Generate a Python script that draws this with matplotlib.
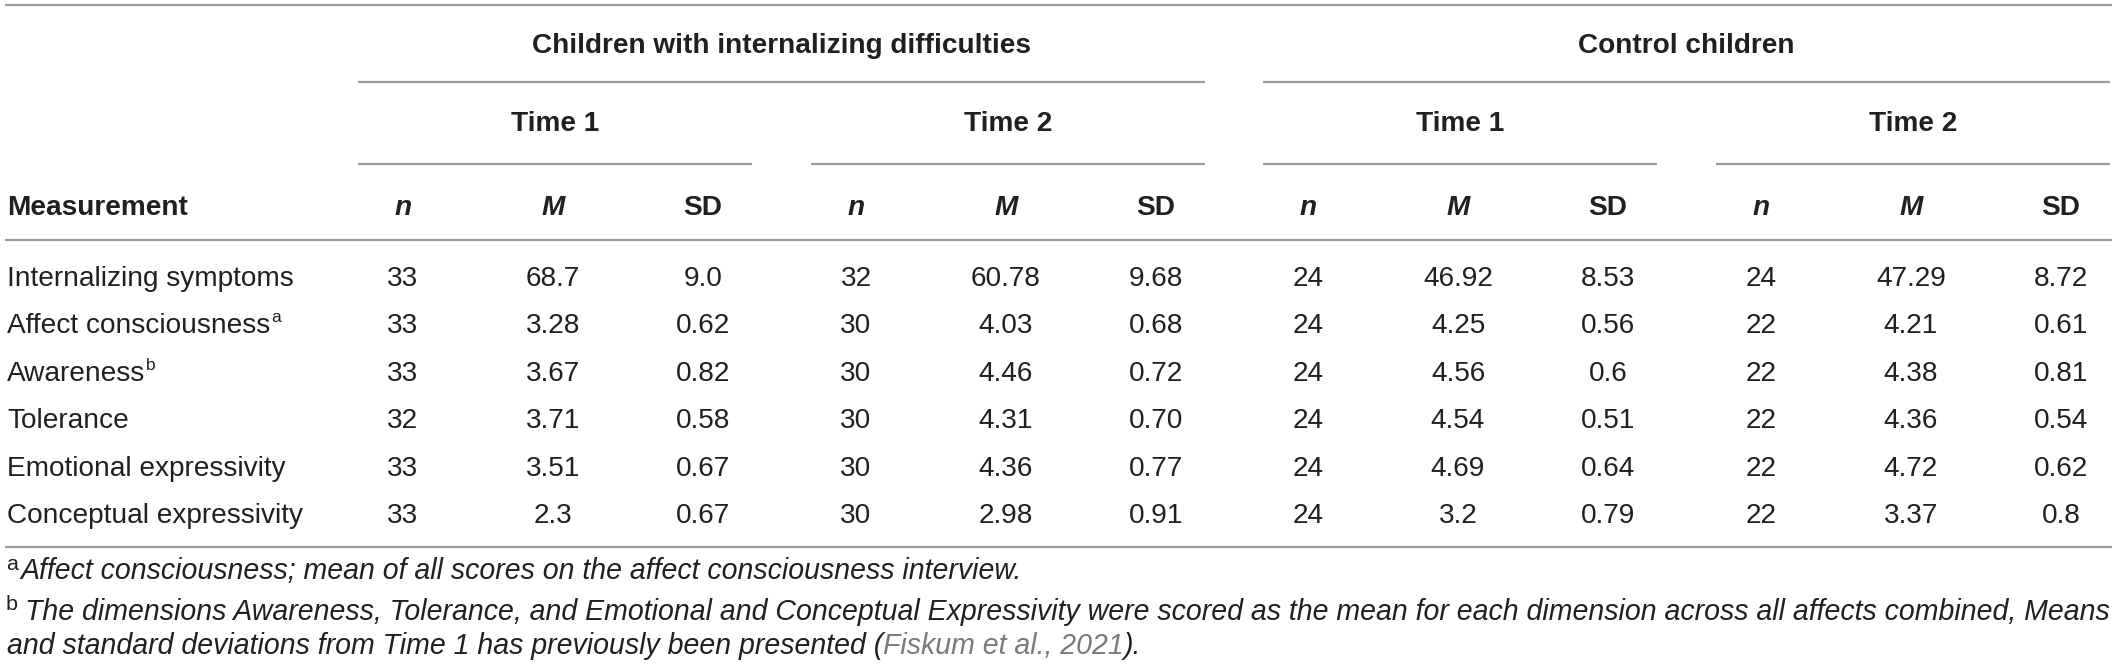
import matplotlib
matplotlib.use("Agg")
import matplotlib.pyplot as plt

# Table content
measurements = ["Internalizing symptoms", "Affect consciousness", "Awareness",
                "Tolerance", "Emotional expressivity", "Conceptual expressivity"]
label_marks = ["", "a", "b", "", "", ""]

groups = ["Children with internalizing difficulties", "Control children"]
times = ["Time 1", "Time 2"]
stat_cols = ["n", "M", "SD"]

# internalizing group
int_t1_n = ["33", "33", "33", "32", "33", "33"]
int_t1_m = ["68.7", "3.28", "3.67", "3.71", "3.51", "2.3"]
int_t1_sd = ["9.0", "0.62", "0.82", "0.58", "0.67", "0.67"]
int_t2_n = ["32", "30", "30", "30", "30", "30"]
int_t2_m = ["60.78", "4.03", "4.46", "4.31", "4.36", "2.98"]
int_t2_sd = ["9.68", "0.68", "0.72", "0.70", "0.77", "0.91"]
# control group
ctl_t1_n = ["24", "24", "24", "24", "24", "24"]
ctl_t1_m = ["46.92", "4.25", "4.56", "4.54", "4.69", "3.2"]
ctl_t1_sd = ["8.53", "0.56", "0.6", "0.51", "0.64", "0.79"]
ctl_t2_n = ["24", "22", "22", "22", "22", "22"]
ctl_t2_m = ["47.29", "4.21", "4.38", "4.36", "4.72", "3.37"]
ctl_t2_sd = ["8.72", "0.61", "0.81", "0.54", "0.62", "0.8"]

blocks = [
    (int_t1_n, int_t1_m, int_t1_sd),
    (int_t2_n, int_t2_m, int_t2_sd),
    (ctl_t1_n, ctl_t1_m, ctl_t1_sd),
    (ctl_t2_n, ctl_t2_m, ctl_t2_sd),
]

note_a = "Affect consciousness; mean of all scores on the affect consciousness interview."
note_b1 = ("The dimensions Awareness, Tolerance, and Emotional and Conceptual Expressivity "
           "were scored as the mean for each dimension across all affects combined, Means")
note_b2 = "and standard deviations from Time 1 has previously been presented ("
note_cite = "Fiskum et al., 2021"
note_end = ")."

# layout (pixel coordinates)
W, H = 2118, 672
FONT = "Liberation Sans"
TXT = "#231f20"
RULE = "#9a9a9a"
FS = 20.2
block_x0 = [358, 811, 1263, 1716]
block_w = 394
col_off = [45, 195, 345]
row_y0, row_step = 276, 47.4

fig = plt.figure(figsize=(W / 100, H / 100), dpi=100)
ax = fig.add_axes([0, 0, 1, 1])
ax.set_xlim(0, W)
ax.set_ylim(H, 0)
ax.axis("off")
renderer = fig.canvas.get_renderer()


def right_edge(t):
    bb = t.get_window_extent(renderer)
    return ax.transData.inverted().transform((bb.x1, bb.y0))[0]


def hline(y, x0, x1):
    ax.plot([x0, x1], [y, y], color=RULE, lw=1.6, solid_capstyle="butt")


# rules
hline(5, 5, 2112)
hline(240, 5, 2112)
hline(547, 5, 2112)
for g in range(2):
    hline(82, block_x0[2 * g], block_x0[2 * g + 1] + block_w)
for b in range(4):
    hline(164, block_x0[b], block_x0[b] + block_w)

# header text
for g, name in enumerate(groups):
    cx = (block_x0[2 * g] + block_x0[2 * g + 1] + block_w) / 2
    ax.text(cx, 53, name, ha="center", va="baseline", fontsize=FS,
            fontweight="bold", family=FONT, color=TXT)
for b in range(4):
    ax.text(block_x0[b] + block_w / 2, 131, times[b % 2], ha="center", va="baseline",
            fontsize=FS, fontweight="bold", family=FONT, color=TXT)
    for c, lab in enumerate(stat_cols):
        style = "normal" if lab == "SD" else "italic"
        ax.text(block_x0[b] + col_off[c], 215, lab, ha="center", va="baseline",
                fontsize=FS, fontweight="bold", fontstyle=style, family=FONT, color=TXT)
ax.text(7, 215, "Measurement", ha="left", va="baseline", fontsize=FS,
        fontweight="bold", family=FONT, color=TXT)

# body
for i, name in enumerate(measurements):
    y = row_y0 + i * row_step + 10
    t = ax.text(7, y, name, ha="left", va="baseline", fontsize=FS, family=FONT, color=TXT)
    if label_marks[i]:
        ax.text(right_edge(t) + 1, y - 11, label_marks[i], ha="left", va="baseline",
                fontsize=FS * 0.62, family=FONT, color=TXT)
    for b, cols in enumerate(blocks):
        for c, vals in enumerate(cols):
            ax.text(block_x0[b] + col_off[c], y, vals[i], ha="center", va="baseline",
                    fontsize=FS, family=FONT, color=TXT)

# footnotes: fit the long line to the table width
probe = ax.text(25, 620, note_b1, ha="left", va="baseline", fontsize=18,
                fontstyle="italic", family=FONT)
fn_fs = 18 * (2108 - 25) / (right_edge(probe) - 25)
probe.remove()

sup_fs = fn_fs * 0.75
ax.text(6, 570, "a", ha="left", va="baseline", fontsize=sup_fs, family=FONT, color=TXT)
ax.text(20, 579, note_a, ha="left", va="baseline", fontsize=fn_fs,
        fontstyle="italic", family=FONT, color=TXT)
ax.text(6, 610, "b", ha="left", va="baseline", fontsize=sup_fs, family=FONT, color=TXT)
ax.text(25, 620, note_b1, ha="left", va="baseline", fontsize=fn_fs,
        fontstyle="italic", family=FONT, color=TXT)
t = ax.text(7, 654, note_b2, ha="left", va="baseline", fontsize=fn_fs,
            fontstyle="italic", family=FONT, color=TXT)
t = ax.text(right_edge(t), 654, note_cite, ha="left", va="baseline", fontsize=fn_fs,
            fontstyle="italic", family=FONT, color="#7a7a7a")
ax.text(right_edge(t), 654, note_end, ha="left", va="baseline", fontsize=fn_fs,
        fontstyle="italic", family=FONT, color=TXT)

fig.savefig("out.png", dpi=100, facecolor="white")
